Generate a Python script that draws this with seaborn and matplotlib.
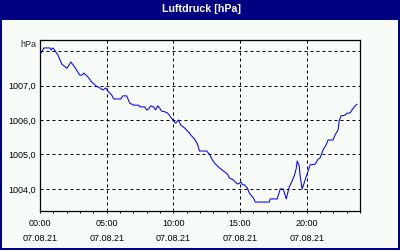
import matplotlib
matplotlib.use("Agg")
import matplotlib.pyplot as plt
from matplotlib.patches import Rectangle
from matplotlib.ticker import FixedLocator, FuncFormatter, MultipleLocator
import seaborn as sns
import pandas as pd

# Data (hours after 07.08.21 00:00, pressure in hPa)
hours = [0.07, 0.30, 0.75, 0.82, 0.97, 1.35, 1.64, 2.02, 2.32, 2.54, 2.84, 2.99,
         3.14, 3.29, 3.59, 3.89, 4.19, 4.49, 4.71, 4.93, 5.16, 5.38, 5.53, 6.06,
         6.21, 6.50, 6.73, 7.03, 7.40, 7.48, 7.85, 8.00, 8.15, 8.30, 8.52, 8.67,
         8.82, 8.97, 9.12, 9.42, 9.57, 9.79, 10.02, 10.17, 10.39, 10.54, 10.84,
         11.14, 11.36, 11.59, 11.81, 11.96, 12.49, 12.71, 12.93, 13.16, 13.46,
         13.76, 14.06, 14.21, 14.50, 14.80, 15.10, 15.18, 15.33, 15.55, 15.70,
         16.00, 16.15, 17.20, 17.27, 17.79, 18.02, 18.24, 18.47, 18.69, 18.84,
         19.07, 19.21, 19.29, 19.44, 19.51, 19.66, 19.81, 19.96, 20.11, 20.26,
         20.64, 20.86, 21.01, 21.23, 21.46, 21.61, 21.98, 22.13, 22.36, 22.43,
         22.58, 22.88, 23.03, 23.25, 23.40, 23.63, 23.78]
pressure = [1007.94, 1008.09, 1008.09, 1008.03, 1008.09, 1007.88, 1007.62, 1007.50,
            1007.68, 1007.57, 1007.39, 1007.30, 1007.30, 1007.36, 1007.25, 1007.10,
            1006.99, 1006.93, 1006.87, 1006.93, 1006.81, 1006.72, 1006.61, 1006.61,
            1006.70, 1006.70, 1006.49, 1006.43, 1006.43, 1006.38, 1006.38, 1006.29,
            1006.32, 1006.41, 1006.38, 1006.29, 1006.41, 1006.35, 1006.26, 1006.23,
            1006.20, 1006.09, 1005.97, 1005.91, 1006.00, 1005.86, 1005.77, 1005.65,
            1005.54, 1005.45, 1005.30, 1005.10, 1005.10, 1005.01, 1004.84, 1004.72,
            1004.61, 1004.52, 1004.43, 1004.32, 1004.26, 1004.14, 1004.20, 1004.12,
            1004.12, 1004.03, 1003.88, 1003.74, 1003.62, 1003.62, 1003.71, 1003.71,
            1004.00, 1004.00, 1003.71, 1004.06, 1004.17, 1004.38, 1004.58, 1004.81,
            1004.67, 1004.38, 1004.00, 1004.17, 1004.35, 1004.52, 1004.70, 1004.72,
            1004.86, 1004.90, 1005.13, 1005.28, 1005.42, 1005.42, 1005.57, 1005.71,
            1005.97, 1006.12, 1006.14, 1006.20, 1006.20, 1006.29, 1006.41, 1006.46]

title = "Luftdruck [hPa]"
unit_label = "hPa"
y_ticks = [1004, 1005, 1006, 1007, 1008]
x_ticks = [0, 5, 10, 15, 20]
x_tick_labels = ["00:00\n07.08.21", "05:00\n07.08.21", "10:00\n07.08.21",
                 "15:00\n07.08.21", "20:00\n07.08.21"]

sns.set_style("white")
plt.rcParams["font.family"] = ["Liberation Sans", "DejaVu Sans"]

bg = "#f8fcf8"
navy = "#000080"

fig = plt.figure(figsize=(4, 2.5), dpi=100, facecolor=bg)
ax = fig.add_axes([0.1, 0.156, 0.8, 0.684])
ax.set_facecolor(bg)

df = pd.DataFrame({"h": hours, "p": pressure})
sns.lineplot(data=df, x="h", y="p", ax=ax, color="#0000ff", linewidth=0.75)

ax.set_xlim(0, 24)
ax.set_ylim(1003.36, 1008.32)

ax.yaxis.set_major_locator(FixedLocator(y_ticks))
ax.yaxis.set_major_formatter(FuncFormatter(
    lambda v, pos: "" if v >= 1008 else f"{v:.1f}".replace(".", ",")))
ax.set_xticks(x_ticks)
ax.set_xticklabels(x_tick_labels, linespacing=1.75)
ax.xaxis.set_minor_locator(MultipleLocator(1))

ax.tick_params(axis="y", length=0, pad=3, labelsize=6.5, colors="black")
ax.tick_params(axis="x", which="both", direction="out", length=1.6,
               width=0.72, pad=4.5, labelsize=6.5, colors="black", bottom=True)

ax.grid(True, which="major", color="black", linestyle=(0, (3, 3)), linewidth=0.72)
for s in ax.spines.values():
    s.set_visible(True)
    s.set_color("black")
    s.set_linewidth(0.9)

ax.set_xlabel("")
ax.set_ylabel("")

ax.text(-0.012, 0.971, unit_label, transform=ax.transAxes, ha="right",
        va="center", fontsize=6.5)

# Title bar and frame
fig.add_artist(Rectangle((0, 0.92), 1, 0.08, transform=fig.transFigure,
                         facecolor=navy, edgecolor="none", zorder=0))
fig.add_artist(Rectangle((0, 0), 0.004, 1, transform=fig.transFigure,
                         facecolor=navy, edgecolor="none"))
fig.add_artist(Rectangle((0.995, 0), 0.005, 1, transform=fig.transFigure,
                         facecolor=navy, edgecolor="none"))
fig.add_artist(Rectangle((0, 0), 1, 0.008, transform=fig.transFigure,
                         facecolor=navy, edgecolor="none"))
fig.text(0.505, 0.966, title, color="white", fontsize=7.7, fontweight="bold",
         ha="center", va="center")

fig.savefig("out.png", dpi=100, facecolor=bg)
